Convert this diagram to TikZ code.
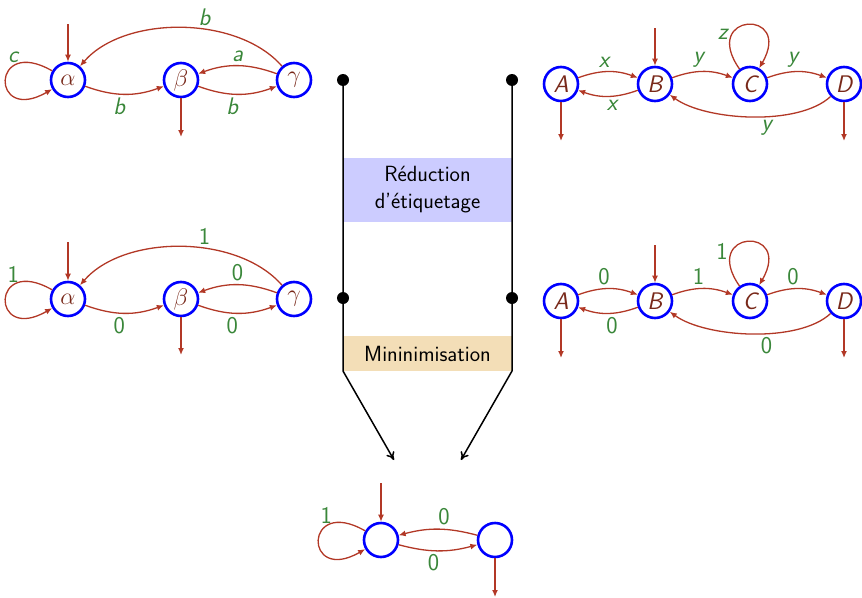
\documentclass[tikz,border=0pt]{standalone}
\usepackage{fix-cm}
\usetikzlibrary{arrows.meta}
\definecolor{edgered}{RGB}{178,56,38}
\definecolor{lblgreen}{RGB}{58,135,58}
\definecolor{nodebrown}{RGB}{120,40,25}
\definecolor{boxblue}{RGB}{204,204,255}
\definecolor{boxorange}{RGB}{243,222,183}
\tikzset{
  state/.style={circle,draw=blue,line width=2.6pt,minimum size=34pt,inner sep=0pt,
    text=nodebrown,font=\fontsize{24}{28}\selectfont\sffamily\itshape},
  trans/.style={draw=edgered,line width=1.3pt,-{Latex[length=7pt,width=6pt]}},
  lbl/.style={text=lblgreen,font=\fontsize{24}{28}\selectfont\sffamily,inner sep=3.5pt,pos=0.43},
  lbli/.style={lbl,font=\fontsize{24}{28}\selectfont\sffamily\itshape},
  dot/.style={circle,fill=black,minimum size=12pt,inner sep=0pt},
  flow/.style={line width=1.5pt,black},
  stepbox/.style={minimum width=169pt,inner sep=0pt,align=center,
    font=\fontsize{22}{27}\selectfont\sffamily}
}
\begin{document}
\begin{tikzpicture}
\useasboundingbox (0,0) rectangle (862pt,-597pt);
\begin{scope}[x=1pt,y=1pt]
% ---------- top left
\node[state] (al1) at (68,-80) {$\alpha$};
\node[state] (be1) at (181,-80) {$\beta$};
\node[state] (ga1) at (294,-80) {$\gamma$};
\coordinate (i1) at (68,-24);
\coordinate (f1) at (181,-137);
\draw[trans] (i1) -- (al1);
\draw[trans] (be1) -- (f1);
\draw[trans] (al1) to[bend right=20] node[lbli,below] {b} (be1);
\draw[trans] (be1) to[bend right=20] node[lbli,below] {b} (ga1);
\draw[trans] (ga1) to[bend right=20] node[lbli,above,pos=0.5] {a} (be1);
\draw[trans] (ga1) to[out=131,in=49,looseness=0.86] node[lbli,above,pos=0.4] {b} (al1);
\draw[trans] (al1) to[out=150,in=210,looseness=10] node[lbli,above,pos=0.3,inner sep=2pt] {c} (al1);
% ---------- top right
\node[state] (A1) at (561,-84) {A};
\node[state] (B1) at (655,-84) {B};
\node[state] (C1) at (750,-84) {C};
\node[state] (D1) at (844,-84) {D};
\coordinate (i2) at (655,-28);
\coordinate (f2a) at (561,-141);
\coordinate (f2d) at (844,-141);
\draw[trans] (i2) -- (B1);
\draw[trans] (A1) -- (f2a);
\draw[trans] (D1) -- (f2d);
\draw[trans] (A1) to[bend left=20] node[lbli,above] {x} (B1);
\draw[trans] (B1) to[bend left=20] node[lbli,below] {x} (A1);
\draw[trans] (B1) to[bend left=20] node[lbli,above] {y} (C1);
\draw[trans] (C1) to[bend left=20] node[lbli,above] {y} (D1);
\draw[trans] (C1) to[out=125,in=60,looseness=9] node[lbli,left,pos=0.28] {z} (C1);
\draw[trans] (D1) to[out=-137,in=-36,looseness=0.7] node[lbli,below,pos=0.42] {y} (B1);
% ---------- middle left
\node[state] (al2) at (68,-299) {$\alpha$};
\node[state] (be2) at (181,-299) {$\beta$};
\node[state] (ga2) at (294,-299) {$\gamma$};
\coordinate (i3) at (68,-242);
\coordinate (f3) at (181,-355);
\draw[trans] (i3) -- (al2);
\draw[trans] (be2) -- (f3);
\draw[trans] (al2) to[bend right=20] node[lbl,below] {0} (be2);
\draw[trans] (be2) to[bend right=20] node[lbl,below] {0} (ga2);
\draw[trans] (ga2) to[bend right=20] node[lbl,above,pos=0.5] {0} (be2);
\draw[trans] (ga2) to[out=131,in=49,looseness=0.86] node[lbl,above,pos=0.4] {1} (al2);
\draw[trans] (al2) to[out=150,in=210,looseness=10] node[lbl,above,pos=0.3,inner sep=2pt] {1} (al2);
% ---------- middle right
\node[state] (A2) at (561,-301) {A};
\node[state] (B2) at (655,-301) {B};
\node[state] (C2) at (750,-301) {C};
\node[state] (D2) at (844,-301) {D};
\coordinate (i4) at (655,-245);
\coordinate (f4a) at (561,-358);
\coordinate (f4d) at (844,-358);
\draw[trans] (i4) -- (B2);
\draw[trans] (A2) -- (f4a);
\draw[trans] (D2) -- (f4d);
\draw[trans] (A2) to[bend left=20] node[lbl,above] {0} (B2);
\draw[trans] (B2) to[bend left=20] node[lbl,below] {0} (A2);
\draw[trans] (B2) to[bend left=20] node[lbl,above] {1} (C2);
\draw[trans] (C2) to[bend left=20] node[lbl,above] {0} (D2);
\draw[trans] (C2) to[out=125,in=60,looseness=9] node[lbl,left,pos=0.28] {1} (C2);
\draw[trans] (D2) to[out=-137,in=-36,looseness=0.7] node[lbl,below,pos=0.42] {0} (B2);
% ---------- bottom
\node[state] (p) at (381,-540) {};
\node[state] (q) at (495,-540) {};
\coordinate (i5) at (381,-483);
\coordinate (f5) at (495,-597);
\draw[trans] (i5) -- (p);
\draw[trans] (q) -- (f5);
\draw[trans] (p) to[bend right=15] node[lbl,below,pos=0.44] {0} (q);
\draw[trans] (q) to[bend right=15] node[lbl,above,pos=0.42] {0} (p);
\draw[trans] (p) to[out=150,in=210,looseness=10] node[lbl,above,pos=0.3,inner sep=2pt] {1} (p);
% ---------- middle process
\node[stepbox,fill=boxblue,minimum height=64pt] (red) at (427.5,-190) {Réduction\\d'étiquetage};
\node[stepbox,fill=boxorange,minimum height=35pt] (min) at (427.5,-353.5) {Mininimisation};
\node[dot] (d1) at (343,-80) {};
\node[dot] (d2) at (512,-80) {};
\node[dot] (d3) at (343,-298) {};
\node[dot] (d4) at (512,-298) {};
\coordinate (e1) at (343,-371);
\coordinate (e2) at (512,-371);
\coordinate (t1) at (394,-460);
\coordinate (t2) at (461,-460);
\draw[flow,-{To[length=8pt,width=9pt]}] (d1.center) -- (e1) -- (t1);
\draw[flow,-{To[length=8pt,width=9pt]}] (d2.center) -- (e2) -- (t2);
\end{scope}
\end{tikzpicture}
\end{document}
